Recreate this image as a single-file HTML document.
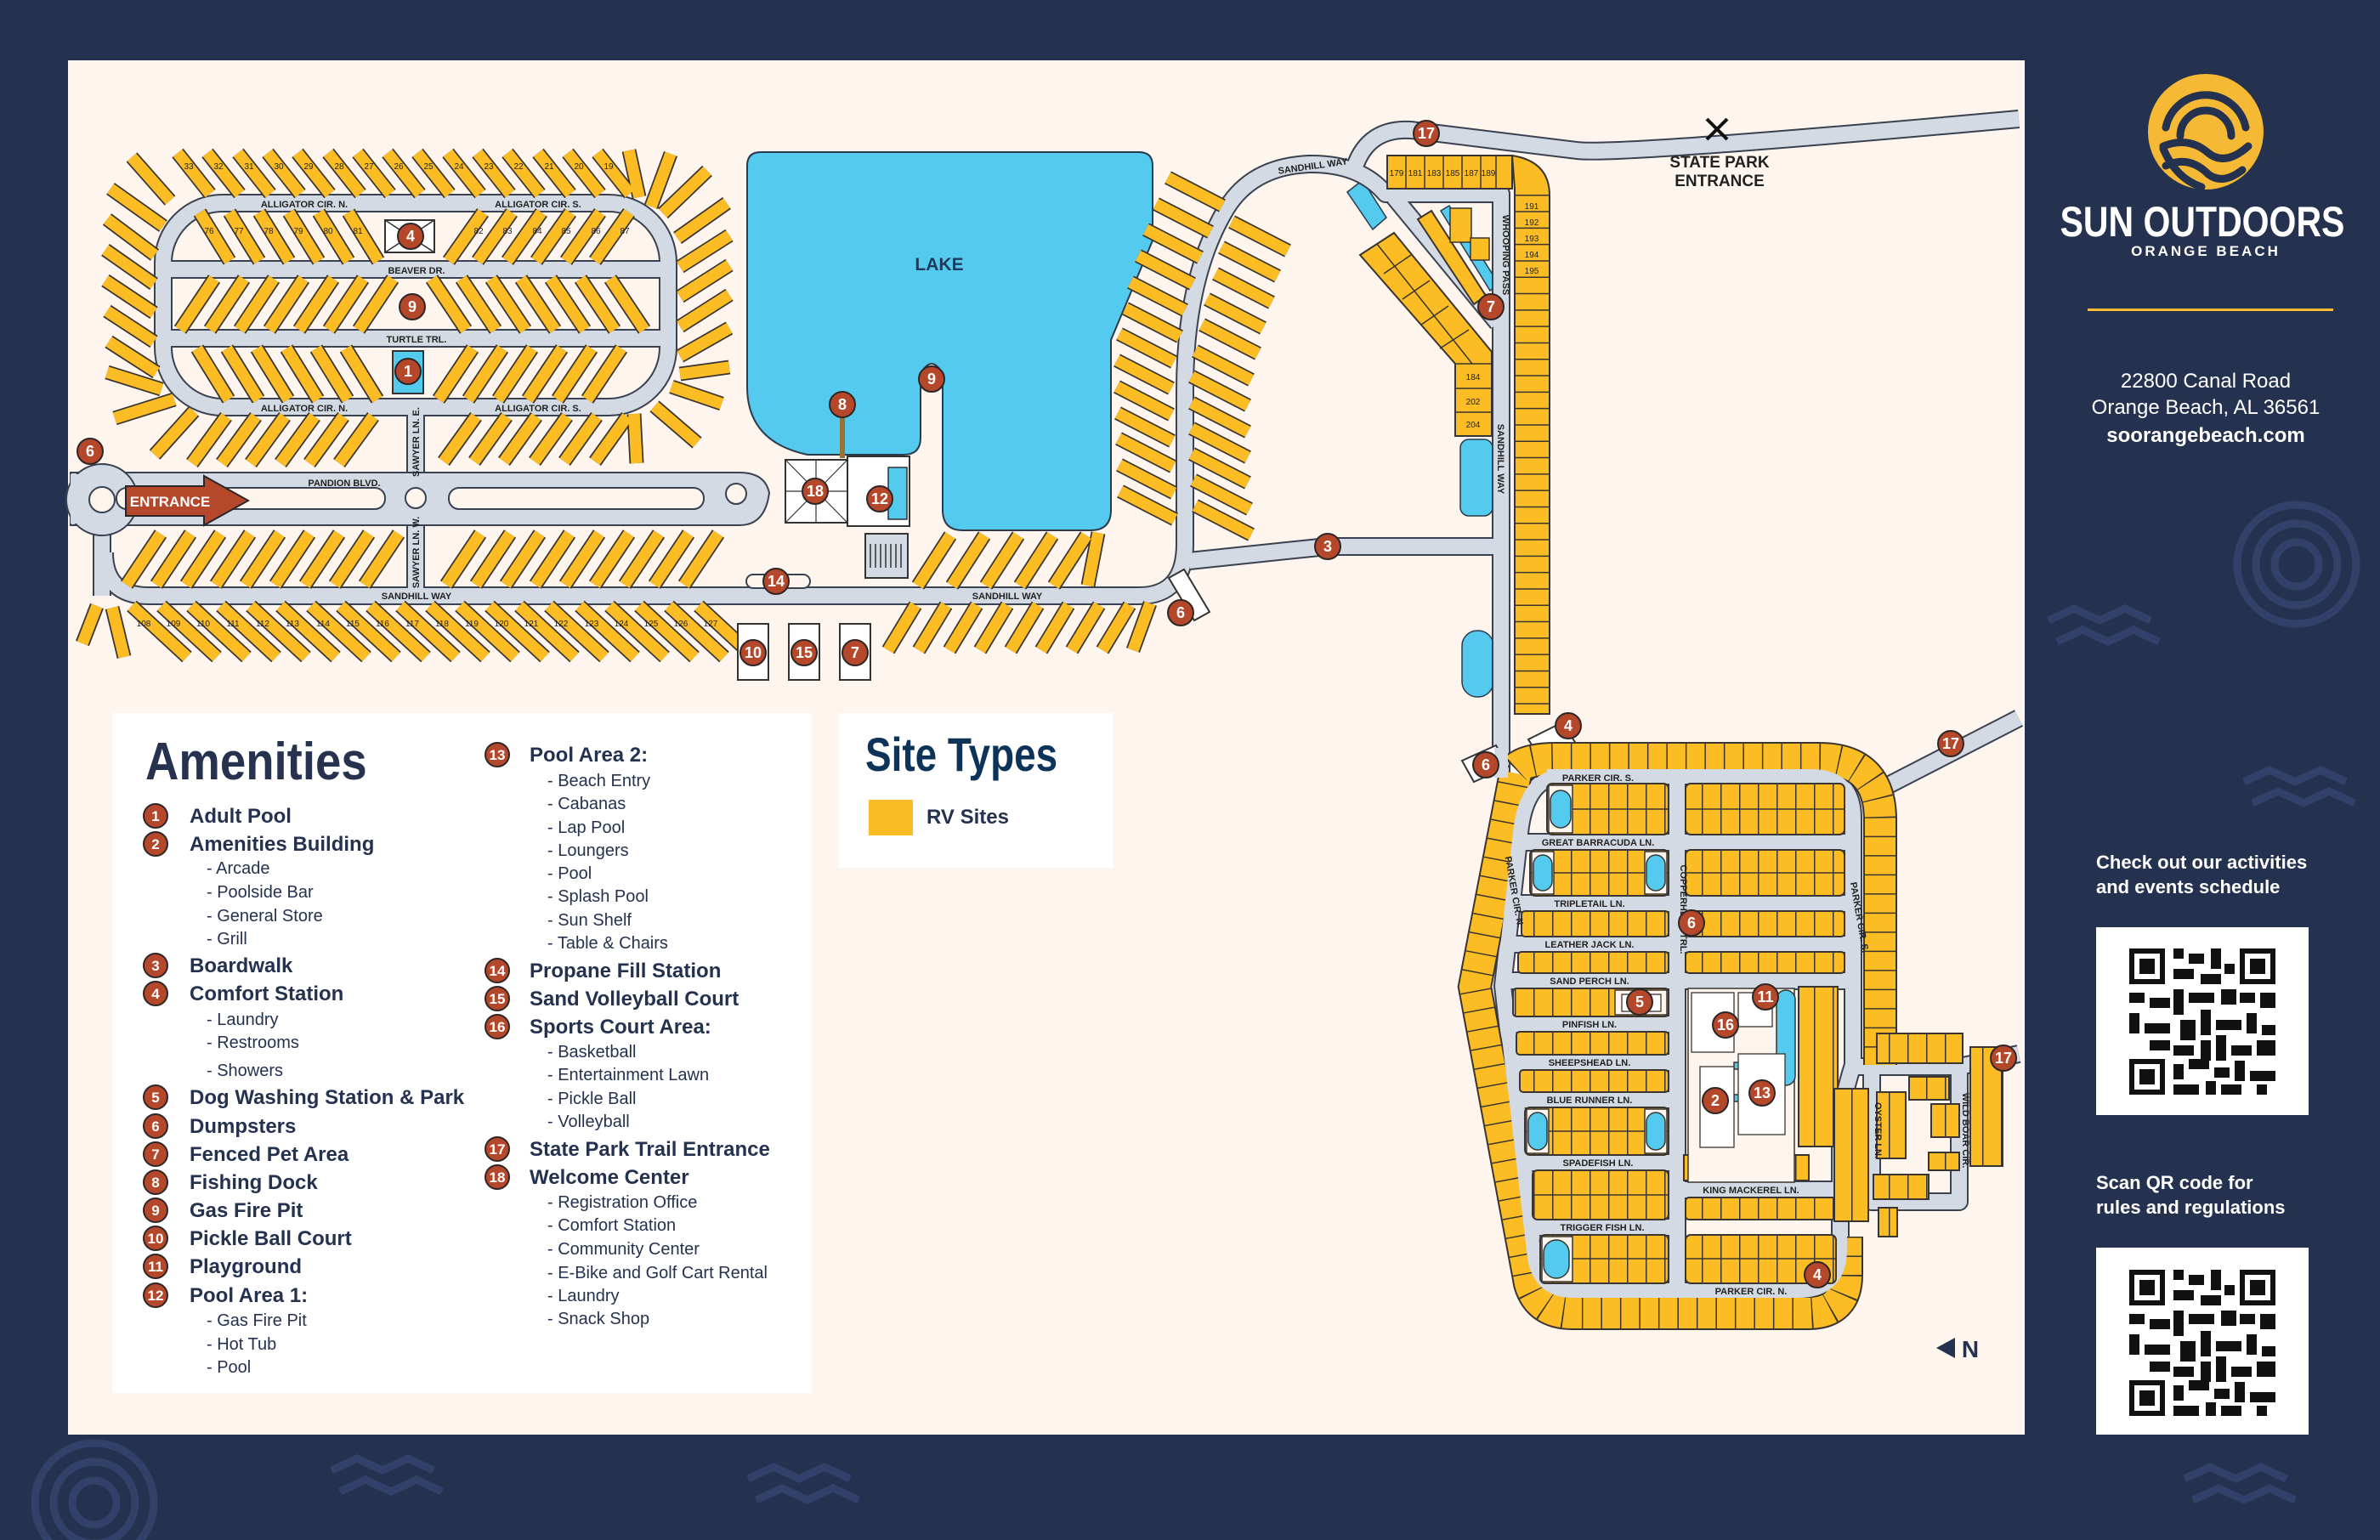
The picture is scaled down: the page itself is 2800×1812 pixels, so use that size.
<!DOCTYPE html>
<html><head><meta charset="utf-8"><style>
html,body{margin:0;padding:0;background:#25324f}
svg{display:block}
text{font-family:"Liberation Sans",sans-serif}
.m circle{fill:#b5482a;stroke:#2d2626;stroke-width:2}
.m text{fill:#fff;font-weight:bold;font-size:18px;text-anchor:middle}
.rl{font-size:11px;font-weight:bold;fill:#222;text-anchor:middle}
.sn{font-size:10px;fill:#222;text-anchor:middle}
.lh{font-size:24px;font-weight:bold;fill:#25324f}
.ls{font-size:20px;fill:#25324f}
.lc circle{fill:#b5482a;stroke:#2d2626;stroke-width:2}
.lc text{fill:#fff;font-weight:bold;font-size:17px;text-anchor:middle}
</style></head><body>
<svg width="2800" height="1812" viewBox="0 0 2800 1812" xmlns="http://www.w3.org/2000/svg">
<defs>
<pattern id="pv" width="22" height="10" patternUnits="userSpaceOnUse"><rect width="22" height="10" fill="#fbbd23"/><rect width="1.5" height="10" fill="#3a3530"/></pattern>
</defs>
<rect width="2800" height="1812" fill="#25324f"/>
<g fill="none" stroke="#31416a" stroke-width="9">
<circle cx="2702" cy="664" r="70"/><circle cx="2702" cy="664" r="48"/><circle cx="2702" cy="664" r="26"/>
<circle cx="111" cy="1768" r="70"/><circle cx="111" cy="1768" r="48"/><circle cx="111" cy="1768" r="26"/>
<path d="M2410 730 l30 -14 l30 14 l30 -14 l30 14 M2420 755 l30 -14 l30 14 l30 -14 l30 14"/>
<path d="M2640 920 l30 -14 l30 14 l30 -14 l30 14 M2650 945 l30 -14 l30 14 l30 -14 l30 14"/>
<path d="M390 1730 l30 -14 l30 14 l30 -14 l30 14 M400 1755 l30 -14 l30 14 l30 -14 l30 14"/>
<path d="M880 1740 l30 -14 l30 14 l30 -14 l30 14 M890 1765 l30 -14 l30 14 l30 -14 l30 14"/>
<path d="M2570 1740 l30 -14 l30 14 l30 -14 l30 14 M2580 1765 l30 -14 l30 14 l30 -14 l30 14"/>
</g>
<rect x="80" y="71" width="2302" height="1617" fill="#fdf5ee"/>

<path d="M879 195 Q879 179 895 179 L1340 179 Q1356 179 1356 195 L1356 283 L1307 400 L1307 600 Q1307 624 1283 624 L1133 624 Q1109 624 1109 600 L1109 440 Q1096 416 1083 440 L1083 515 Q1083 535 1063 535 L950 535 Q879 520 879 455 Z" fill="#54caee" stroke="#2d3a4a" stroke-width="2"/>
<text x="1105" y="318" font-size="21" font-weight="bold" fill="#1e3a5c" text-anchor="middle">LAKE</text>
<g fill="#54caee" stroke="#2d3a4a" stroke-width="1.5">
<rect x="1718" y="517" width="38" height="90" rx="10"/>
<rect x="1720" y="742" width="37" height="78" rx="18"/>
<path d="M1585 226 l18 -14 l28 44 l-16 14 z"/>
<path d="M1695 248 l10 -6 l58 92 l-10 8 z"/>
</g>

<defs>
<g id="rd" fill="none">
<rect x="192" y="239" width="594" height="240" rx="70"/>
<path d="M192 317 H786 M192 398 H786"/>
<path d="M489 479 V701"/>
<path d="M120 701 Q120 620 120 600"/>
<path d="M123 650 Q123 701 175 701 H1340 Q1394 701 1394 640 V460 Q1394 330 1440 250 Q1470 196 1540 193 Q1600 192 1630 228 H1766 V913"/>
<path d="M1640 232 L1762 380"/>
<path d="M1594 196 Q1610 150 1660 153 L1855 177 Q1900 183 2375 140"/>
<path d="M1399 660 L1562 643 H1766" />
<path d="M1820 913 H2130 Q2180 913 2180 963 V1253 Q2165 1300 2165 1330 V1470 Q2165 1519 2115 1519 H1850 Q1812 1519 1805 1480 L1768 1160 L1788 980 Q1795 913 1840 913"/>
<path d="M1973 913 V1519"/>
<path d="M1778 991 H2180 M1776 1063 H2180 M1772 1111 H2180 M1770 1154 H2180"/>
<path d="M1768 1205 H1973 M1772 1250 H1973 M1776 1294 H1973 M1785 1368 H1973 M1795 1444 H1973 M1973 1400 H2170"/>
<path d="M2180 1255 H2305 V1414 H2202 V1255"/>
<path d="M2305 1255 L2375 1240 M2200 935 L2375 845"/>
</g>
</defs>
<use href="#rd" stroke="#3a4150" stroke-width="22" stroke-linejoin="round"/>
<use href="#rd" stroke="#d4dae3" stroke-width="18" stroke-linejoin="round"/>
<path d="M83 556 H870 Q900 556 905 580 Q900 618 870 618 H83 Z" fill="#d4dae3" stroke="#3a4150" stroke-width="2"/>
<circle cx="120" cy="588" r="42" fill="#d4dae3" stroke="#3a4150" stroke-width="2"/>
<rect x="83" y="558" width="40" height="58" fill="#d4dae3"/>
<circle cx="120" cy="588" r="15" fill="#fdf5ee" stroke="#3a4150" stroke-width="2"/>
<rect x="137" y="574" width="316" height="25" rx="12" fill="#fdf5ee" stroke="#3a4150" stroke-width="2"/>
<rect x="528" y="574" width="300" height="25" rx="12" fill="#fdf5ee" stroke="#3a4150" stroke-width="2"/>
<circle cx="489" cy="586" r="12" fill="#fdf5ee" stroke="#3a4150" stroke-width="2"/>
<circle cx="866" cy="581" r="12" fill="#fdf5ee" stroke="#3a4150" stroke-width="2"/>
<rect x="878" y="676" width="75" height="16" rx="8" fill="#fdf5ee" stroke="#3a4150" stroke-width="2"/>
<path d="M148 572 H240 V560 L292 589 L240 618 V607 H148 Z" fill="#b5482a" stroke="#2d2626" stroke-width="2"/>
<text x="200" y="596" font-size="17" font-weight="bold" fill="#fff" text-anchor="middle">ENTRANCE</text>

<defs>
<g id="ws">
<path d="M209 180l38 48M244 180l38 48M280 180l38 48M315 180l38 48M350 180l38 48M386 180l38 48M421 180l38 48M456 180l38 48M491 180l38 48M527 180l38 48M562 180l38 48M597 180l38 48M633 180l38 48M668 180l38 48M703 180l38 48"/>
<path d="M155 185L200 236M740 177L752 232M789 181L766 243M832 201L780 251M855 239L797 280M858 277L800 314M858 312L800 349M858 347L800 384M858 386L800 419M858 432L800 440M849 475L790 455M820 521L770 478M749 545L746 487"/>
<path d="M130 222L192 266M126 258L182 300M124 294L181 334M124 330L181 368M126 366L181 402M128 402L184 438M126 438L190 458M135 492L205 470M182 535L228 484"/>
<path d="M226 545l40 -55M261 545l40 -55M295 545l40 -55M330 545l40 -55M364 545l40 -55M399 545l40 -55M522 543l38 -53M558 543l38 -53M593 543l38 -53M629 543l38 -53M664 543l38 -53M700 543l38 -53"/>
<path d="M235 250l35 57M270 250l35 57M305 250l35 57M340 250l35 57M375 250l35 57M410 250l35 57"/>
<path d="M528 307l40 -57M562 307l40 -57M597 307l40 -57M631 307l40 -57M666 307l40 -57M700 307l40 -57"/>
<path d="M212 388l40 -60M247 388l40 -60M282 388l40 -60M317 388l40 -60M352 388l40 -60M387 388l40 -60M422 388l40 -60"/>
<path d="M508 328l40 60M543 328l40 60M578 328l40 60M613 328l40 60M648 328l40 60M683 328l40 60M718 328l40 60"/>
<path d="M232 410l37 60M267 410l37 60M302 410l37 60M337 410l37 60M372 410l37 60M407 410l37 60"/>
<path d="M516 470l40 -60M551 470l40 -60M586 470l40 -60M621 470l40 -60M656 470l40 -60M691 470l40 -60"/>
<path d="M149 688l40 -60M184 688l40 -60M219 688l40 -60M254 688l40 -60M289 688l40 -60M324 688l40 -60M359 688l40 -60M394 688l40 -60M429 688l40 -60"/>
<path d="M525 688l40 -60M560 688l40 -60M595 688l40 -60M630 688l40 -60M665 688l40 -60M700 688l40 -60M735 688l40 -60M770 688l40 -60M805 688l40 -60"/>
<path d="M114 713L97 757M132 715L146 773"/>
<path d="M155 713l65 60M190 713l65 60M225 713l65 60M260 713l65 60M295 713l65 60M330 713l65 60M366 713l65 60M401 713l65 60M436 713l65 60M471 713l65 60M506 713l65 60M541 713l65 60M576 713l65 60M611 713l65 60M646 713l65 60M682 713l65 60M717 713l65 60M752 713l65 60M787 713l65 60M822 713l65 60"/>
<path d="M1045 765l32 -53M1081 765l32 -53M1117 765l32 -53M1153 765l32 -53M1189 765l32 -53M1225 765l32 -53M1261 765l32 -53M1297 765l32 -53M1333 765l20 -55"/>
<path d="M1080 689l38 -59M1120 689l38 -59M1160 689l38 -59M1200 689l38 -59M1240 689l38 -59M1280 689l12 -62"/>
<path d="M1318 578L1382 611M1317 547L1381 580M1316 516L1380 549M1315 486L1379 519M1314 455L1378 488M1314 424L1378 457M1317 393L1381 426M1324 363L1388 396M1330 332L1394 365M1339 301L1403 334M1348 270L1412 303M1360 240L1424 273M1374 209L1438 242"/>
<path d="M1406 595l66 34M1404 565l66 34M1402 534l66 34M1402 504l66 34M1402 474l66 34M1402 443l66 34M1406 413l66 34M1414 382l66 34M1420 352l66 34M1430 322l66 34M1437 291l66 34M1449 261l66 34"/>
</g>
</defs>
<use href="#ws" fill="none" stroke="#3a3530" stroke-width="17"/>
<use href="#ws" fill="none" stroke="#fbbd23" stroke-width="13.5"/>

<g class="sn">
<text x="222" y="199">33</text><text x="257" y="199">32</text><text x="293" y="199">31</text><text x="328" y="199">30</text><text x="363" y="199">29</text><text x="399" y="199">28</text><text x="434" y="199">27</text><text x="469" y="199">26</text><text x="504" y="199">25</text><text x="540" y="199">24</text><text x="575" y="199">23</text><text x="610" y="199">22</text><text x="646" y="199">21</text><text x="681" y="199">20</text><text x="716" y="199">19</text>
<text x="169" y="737">108</text><text x="204" y="737">109</text><text x="239" y="737">110</text><text x="274" y="737">111</text><text x="309" y="737">112</text><text x="344" y="737">113</text><text x="380" y="737">114</text><text x="415" y="737">115</text><text x="450" y="737">116</text><text x="485" y="737">117</text><text x="520" y="737">118</text><text x="555" y="737">119</text><text x="590" y="737">120</text><text x="625" y="737">121</text><text x="660" y="737">122</text><text x="696" y="737">123</text><text x="731" y="737">124</text><text x="766" y="737">125</text><text x="801" y="737">126</text><text x="836" y="737">127</text>
<text x="246" y="275">76</text><text x="281" y="275">77</text><text x="316" y="275">78</text><text x="351" y="275">79</text><text x="386" y="275">80</text><text x="421" y="275">81</text>
<text x="563" y="275">82</text><text x="597" y="275">83</text><text x="632" y="275">84</text><text x="666" y="275">85</text><text x="701" y="275">86</text><text x="735" y="275">87</text>
</g>

<rect x="453" y="259" width="58" height="38" fill="#fff" stroke="#333" stroke-width="2"/>
<path d="M453 259L511 297M511 259L453 297" stroke="#333" stroke-width="1.5"/>
<rect x="462" y="413" width="36" height="50" fill="#54caee" stroke="#333" stroke-width="2"/>
<g fill="#fff" stroke="#333" stroke-width="2">
<rect x="868" y="734" width="36" height="66"/><rect x="928" y="734" width="36" height="66"/><rect x="988" y="734" width="36" height="66"/>
<rect x="924" y="541" width="73" height="74"/>
<path d="M997 537 H1070 V619 H997 Z"/>
<path d="M1375 680 l18 -10 l30 50 l-18 10 z"/>
<path d="M1798 870 l40 -20 l18 28 l-40 20 z"/>
<path d="M1720 895 l40 -18 l14 25 l-40 18 z"/>
</g>
<rect x="1018" y="628" width="50" height="52" fill="#d4dae3" stroke="#333" stroke-width="2"/>
<path d="M1024 640V668M1030 640V668M1036 640V668M1042 640V668M1048 640V668M1054 640V668M1060 640V668" stroke="#333" stroke-width="1.5"/>
<path d="M924 541L997 615M997 541L924 615M960 541V615M924 578H997" stroke="#333" stroke-width="1.2"/>
<rect x="1045" y="550" width="22" height="61" fill="#54caee" stroke="#333" stroke-width="1.5"/>
<path d="M991 476 V539" stroke="#9a7236" stroke-width="6"/>

<g class="rl">
<text x="358" y="244">ALLIGATOR CIR. N.</text><text x="633" y="244">ALLIGATOR CIR. S.</text>
<text x="490" y="322">BEAVER DR.</text><text x="490" y="403">TURTLE TRL.</text>
<text x="358" y="484">ALLIGATOR CIR. N.</text><text x="633" y="484">ALLIGATOR CIR. S.</text>
<text x="405" y="572">PANDION BLVD.</text>
<text x="490" y="705">SANDHILL WAY</text><text x="1185" y="705">SANDHILL WAY</text>
<text x="1545" y="199" transform="rotate(-8 1545 199)">SANDHILL WAY</text>
<text x="0" y="0" transform="translate(493 520) rotate(-90)">SAWYER LN. E.</text>
<text x="0" y="0" transform="translate(493 650) rotate(-90)">SAWYER LN. W.</text>
<text x="0" y="0" transform="translate(1768 300) rotate(90)">WHOOPING PASS</text>
<text x="0" y="0" transform="translate(1762 540) rotate(90)">SANDHILL WAY</text>
</g>
<text x="2023" y="197" font-size="19" font-weight="bold" fill="#222" text-anchor="middle">STATE PARK</text>
<text x="2023" y="219" font-size="19" font-weight="bold" fill="#222" text-anchor="middle">ENTRANCE</text>
<path d="M2008 140 l24 24 M2032 140 l-24 24" stroke="#111" stroke-width="4"/>

<rect x="1632" y="183" width="147" height="39" fill="#fbbd23" stroke="#3a3530" stroke-width="2"/>
<path d="M1654 183v39M1676 183v39M1698 183v39M1720 183v39M1742 183v39M1760 183v39" stroke="#3a3530" stroke-width="1.5"/>
<path d="M1779 183 Q1823 190 1823 230 V840 H1782 V222 L1779 183 Z" fill="#fbbd23" stroke="#3a3530" stroke-width="2"/>
<line x1="1802" y1="229" x2="1802" y2="840" stroke="#3a3530" stroke-width="40" stroke-dasharray="1.5 17.8"/>
<path d="M1600 300 L1640 274 L1755 414 V513 H1712 V428 Z" fill="#fbbd23" stroke="#3a3530" stroke-width="2"/>
<path d="M1620 287 L1732 428 M1712 428 H1755 M1712 457 H1755 M1712 485 H1755 M1628 322 L1660 300 M1650 352 L1682 330 M1672 382 L1704 360 M1694 410 L1728 388" stroke="#3a3530" stroke-width="1.5"/>
<path d="M1668 258 L1684 248 L1748 348 L1734 358 Z" fill="#fbbd23" stroke="#3a3530" stroke-width="2"/>
<rect x="1706" y="245" width="25" height="40" fill="#fbbd23" stroke="#3a3530" stroke-width="1.5"/>
<rect x="1730" y="280" width="22" height="26" fill="#fbbd23" stroke="#3a3530" stroke-width="1.5"/>
<g class="sn"><text x="1643" y="207">179</text><text x="1665" y="207">181</text><text x="1687" y="207">183</text><text x="1709" y="207">185</text><text x="1731" y="207">187</text><text x="1751" y="207">189</text><text x="1802" y="246">191</text><text x="1802" y="265">192</text><text x="1802" y="284">193</text><text x="1802" y="303">194</text><text x="1802" y="322">195</text><text x="1733" y="447">184</text><text x="1733" y="476">202</text><text x="1733" y="503">204</text></g>

<defs>
<path id="ring" d="M1783 905 Q1795 893 1830 893 H2140 Q2212 893 2212 965 V1253 M2172 1455 V1500 Q2172 1545 2127 1545 H1850 Q1810 1545 1800 1510 L1735 1161 L1783 910"/>
</defs>
<use href="#ring" fill="none" stroke="#3a3530" stroke-width="40"/>
<use href="#ring" fill="none" stroke="#fbbd23" stroke-width="36"/>
<use href="#ring" fill="none" stroke="#3a3530" stroke-width="36" stroke-dasharray="1.5 21"/>
<path d="M1820 913 H2130 Q2180 913 2180 963 V1253 Q2165 1300 2165 1330 V1470 Q2165 1519 2115 1519 H1850 Q1812 1519 1805 1480 L1768 1160 L1788 980 Q1795 913 1840 913" fill="none" stroke="#d4dae3" stroke-width="16"/>
<path d="M1766 880 V915" stroke="#d4dae3" stroke-width="16"/>

<g fill="url(#pv)" stroke="#3a3530" stroke-width="2">
<rect x="1820" y="922" width="143" height="60" rx="6"/>
<rect x="1983" y="922" width="187" height="60" rx="6"/>
<rect x="1800" y="1000" width="163" height="54" rx="6"/>
<rect x="1983" y="1000" width="187" height="54" rx="6"/>
<rect x="1790" y="1072" width="173" height="30" rx="4"/>
<rect x="1983" y="1072" width="187" height="30" rx="4"/>
<rect x="1786" y="1120" width="177" height="25" rx="4"/>
<rect x="1983" y="1120" width="187" height="25" rx="4"/>
<rect x="1780" y="1163" width="183" height="33" rx="4"/>
<rect x="1784" y="1214" width="179" height="27" rx="4"/>
<rect x="1788" y="1259" width="175" height="26" rx="4"/>
<rect x="1794" y="1303" width="169" height="56" rx="6"/>
<rect x="1803" y="1377" width="160" height="58" rx="6"/>
<rect x="1812" y="1453" width="151" height="57" rx="6"/>
<rect x="1983" y="1409" width="177" height="26" rx="4"/>
<rect x="1983" y="1453" width="177" height="57" rx="6"/>
<rect x="1981" y="1359" width="147" height="30"/>
<rect x="2116" y="1161" width="46" height="188"/>
<rect x="2158" y="1281" width="40" height="156"/>
<rect x="2208" y="1285" width="34" height="78"/>
<rect x="2246" y="1267" width="47" height="27"/>
<rect x="2272" y="1299" width="33" height="39"/>
<rect x="2269" y="1356" width="36" height="21"/>
<rect x="2204" y="1382" width="65" height="29"/>
<rect x="2210" y="1421" width="22" height="34"/>
<rect x="2208" y="1216" width="101" height="35"/>
<rect x="2318" y="1232" width="38" height="140"/>
</g>
<path d="M1820 952H1963M1983 952H2170M1800 1027H1963M1983 1027H2170M1794 1331H1963M1803 1406H1963M1812 1481H1963M1983 1481H2160" stroke="#3a3530" stroke-width="1.5"/>
<g fill="#fdf5ee" stroke="#3a3530" stroke-width="1.5">
<rect x="1822" y="924" width="28" height="56"/>
<rect x="1802" y="1002" width="26" height="50"/><rect x="1935" y="1002" width="26" height="50"/>
<rect x="1796" y="1305" width="26" height="52"/><rect x="1935" y="1305" width="26" height="52"/>
<rect x="1814" y="1455" width="36" height="53"/>
<rect x="1900" y="1165" width="61" height="29"/>
<rect x="1986" y="1163" width="125" height="228" fill="#fdf5ee"/>
</g>
<g fill="#54caee" stroke="#3a3530" stroke-width="1.5">
<rect x="1824" y="930" width="24" height="44" rx="12"/>
<rect x="1804" y="1006" width="22" height="42" rx="11"/><rect x="1937" y="1006" width="22" height="42" rx="11"/>
<rect x="1798" y="1309" width="22" height="44" rx="11"/><rect x="1937" y="1309" width="22" height="44" rx="11"/>
<rect x="1816" y="1459" width="30" height="45" rx="15"/>
<rect x="2090" y="1165" width="22" height="112" rx="11"/>
<path d="M2040 1250 h32 v8 h-10 v30 h10 v8 h-32 v-8 h10 v-30 h-10 z"/>
</g>
<g fill="#fff" stroke="#3a3530" stroke-width="1.3">
<rect x="1990" y="1168" width="50" height="70"/><rect x="2045" y="1168" width="40" height="40"/>
<rect x="2000" y="1255" width="40" height="95"/><rect x="2045" y="1240" width="55" height="95"/>
<rect x="1908" y="1170" width="46" height="20"/>
</g>
<g class="rl" font-size="10">
<text x="1880" y="919">PARKER CIR. S.</text><text x="1880" y="995">GREAT BARRACUDA LN.</text><text x="1870" y="1067">TRIPLETAIL LN.</text><text x="1870" y="1115">LEATHER JACK LN.</text><text x="1870" y="1158">SAND PERCH LN.</text><text x="1870" y="1209">PINFISH LN.</text><text x="1870" y="1254">SHEEPSHEAD LN.</text><text x="1870" y="1298">BLUE RUNNER LN.</text><text x="1880" y="1372">SPADEFISH LN.</text><text x="1885" y="1448">TRIGGER FISH LN.</text><text x="2060" y="1404">KING MACKEREL LN.</text><text x="2060" y="1523">PARKER CIR. N.</text>
<text transform="translate(1977 1070) rotate(90)">COPPERHEAD TRL.</text>
<text transform="translate(2184 1080) rotate(80)">PARKER CIR. S.</text>
<text transform="translate(1778 1050) rotate(80)">PARKER CIR. N.</text>
<text transform="translate(2206 1330) rotate(90)">OYSTER LN.</text>
<text transform="translate(2309 1330) rotate(90)">WILD BOAR CIR.</text>
</g>

<g class="m">
<g><circle cx="483" cy="278" r="15"/><text x="483" y="284">4</text></g>
<g><circle cx="485" cy="361" r="15"/><text x="485" y="367">9</text></g>
<g><circle cx="480" cy="437" r="15"/><text x="480" y="443">1</text></g>
<g><circle cx="106" cy="531" r="15"/><text x="106" y="537">6</text></g>
<g><circle cx="913" cy="684" r="15"/><text x="913" y="690">14</text></g>
<g><circle cx="886" cy="768" r="15"/><text x="886" y="774">10</text></g>
<g><circle cx="946" cy="768" r="15"/><text x="946" y="774">15</text></g>
<g><circle cx="1006" cy="768" r="15"/><text x="1006" y="774">7</text></g>
<g><circle cx="991" cy="476" r="15"/><text x="991" y="482">8</text></g>
<g><circle cx="1096" cy="446" r="15"/><text x="1096" y="452">9</text></g>
<g><circle cx="959" cy="578" r="15"/><text x="959" y="584">18</text></g>
<g><circle cx="1035" cy="587" r="15"/><text x="1035" y="593">12</text></g>
<g><circle cx="1562" cy="643" r="15"/><text x="1562" y="649">3</text></g>
<g><circle cx="1389" cy="721" r="15"/><text x="1389" y="727">6</text></g>
<g><circle cx="1678" cy="157" r="15"/><text x="1678" y="163">17</text></g>
<g><circle cx="1754" cy="361" r="15"/><text x="1754" y="367">7</text></g>
<g><circle cx="1845" cy="854" r="15"/><text x="1845" y="860">4</text></g>
<g><circle cx="1748" cy="900" r="15"/><text x="1748" y="906">6</text></g>
<g><circle cx="1990" cy="1086" r="15"/><text x="1990" y="1092">6</text></g>
<g><circle cx="1929" cy="1179" r="15"/><text x="1929" y="1185">5</text></g>
<g><circle cx="2077" cy="1173" r="15"/><text x="2077" y="1179">11</text></g>
<g><circle cx="2030" cy="1206" r="15"/><text x="2030" y="1212">16</text></g>
<g><circle cx="2018" cy="1295" r="15"/><text x="2018" y="1301">2</text></g>
<g><circle cx="2073" cy="1286" r="15"/><text x="2073" y="1292">13</text></g>
<g><circle cx="2138" cy="1500" r="15"/><text x="2138" y="1506">4</text></g>
<g><circle cx="2295" cy="875" r="15"/><text x="2295" y="881">17</text></g>
<g><circle cx="2357" cy="1245" r="15"/><text x="2357" y="1251">17</text></g>
</g>
<path d="M2278 1586 l22 -12 v24 z" fill="#25324f"/>
<text x="2318" y="1597" font-size="28" font-weight="bold" fill="#25324f" text-anchor="middle">N</text>

<rect x="132" y="839" width="823" height="800" fill="#fff"/>
<text x="171" y="917" font-size="62" font-weight="bold" fill="#26324e" transform="translate(171 0) scale(0.88 1) translate(-171 0)">Amenities</text>
<g class="lc">
<g><circle cx="183" cy="960" r="14"/><text x="183" y="966">1</text></g>
<g><circle cx="183" cy="993" r="14"/><text x="183" y="999">2</text></g>
<g><circle cx="183" cy="1136" r="14"/><text x="183" y="1142">3</text></g>
<g><circle cx="183" cy="1169" r="14"/><text x="183" y="1175">4</text></g>
<g><circle cx="183" cy="1291" r="14"/><text x="183" y="1297">5</text></g>
<g><circle cx="183" cy="1325" r="14"/><text x="183" y="1331">6</text></g>
<g><circle cx="183" cy="1358" r="14"/><text x="183" y="1364">7</text></g>
<g><circle cx="183" cy="1391" r="14"/><text x="183" y="1397">8</text></g>
<g><circle cx="183" cy="1424" r="14"/><text x="183" y="1430">9</text></g>
<g><circle cx="183" cy="1457" r="14"/><text x="183" y="1463">10</text></g>
<g><circle cx="183" cy="1490" r="14"/><text x="183" y="1496">11</text></g>
<g><circle cx="183" cy="1524" r="14"/><text x="183" y="1530">12</text></g>
<g><circle cx="585" cy="888" r="14"/><text x="585" y="894">13</text></g>
<g><circle cx="585" cy="1142" r="14"/><text x="585" y="1148">14</text></g>
<g><circle cx="585" cy="1175" r="14"/><text x="585" y="1181">15</text></g>
<g><circle cx="585" cy="1208" r="14"/><text x="585" y="1214">16</text></g>
<g><circle cx="585" cy="1352" r="14"/><text x="585" y="1358">17</text></g>
<g><circle cx="585" cy="1385" r="14"/><text x="585" y="1391">18</text></g>
</g>
<g class="lh">
<text x="223" y="968">Adult Pool</text><text x="223" y="1001">Amenities Building</text>
<text x="223" y="1144">Boardwalk</text><text x="223" y="1177">Comfort Station</text>
<text x="223" y="1299">Dog Washing Station &amp; Park</text><text x="223" y="1333">Dumpsters</text>
<text x="223" y="1366">Fenced Pet Area</text><text x="223" y="1399">Fishing Dock</text>
<text x="223" y="1432">Gas Fire Pit</text><text x="223" y="1465">Pickle Ball Court</text>
<text x="223" y="1498">Playground</text><text x="223" y="1532">Pool Area 1:</text>
<text x="623" y="896">Pool Area 2:</text><text x="623" y="1150">Propane Fill Station</text>
<text x="623" y="1183">Sand Volleyball Court</text><text x="623" y="1216">Sports Court Area:</text>
<text x="623" y="1360">State Park Trail Entrance</text><text x="623" y="1393">Welcome Center</text>
</g>
<g class="ls">
<text x="243" y="1028">- Arcade</text><text x="243" y="1056">- Poolside Bar</text><text x="243" y="1084">- General Store</text><text x="243" y="1111">- Grill</text>
<text x="243" y="1206">- Laundry</text><text x="243" y="1233">- Restrooms</text><text x="243" y="1266">- Showers</text>
<text x="243" y="1560">- Gas Fire Pit</text><text x="243" y="1588">- Hot Tub</text><text x="243" y="1615">- Pool</text>
<text x="644" y="925">- Beach Entry</text><text x="644" y="952">- Cabanas</text><text x="644" y="980">- Lap Pool</text><text x="644" y="1007">- Loungers</text><text x="644" y="1034">- Pool</text><text x="644" y="1061">- Splash Pool</text><text x="644" y="1089">- Sun Shelf</text><text x="644" y="1116">- Table &amp; Chairs</text>
<text x="644" y="1244">- Basketball</text><text x="644" y="1271">- Entertainment Lawn</text><text x="644" y="1299">- Pickle Ball</text><text x="644" y="1326">- Volleyball</text>
<text x="644" y="1421">- Registration Office</text><text x="644" y="1448">- Comfort Station</text><text x="644" y="1476">- Community Center</text><text x="644" y="1504">- E-Bike and Golf Cart Rental</text><text x="644" y="1531">- Laundry</text><text x="644" y="1558">- Snack Shop</text>
</g>
<rect x="987" y="839" width="322" height="182" fill="#fff"/>
<text x="1018" y="907" font-size="56" font-weight="bold" fill="#0d3358" transform="translate(1018 0) scale(0.82 1) translate(-1018 0)">Site Types</text>
<rect x="1022" y="941" width="52" height="42" fill="#fbbd23"/>
<text x="1090" y="969" font-size="24" font-weight="bold" fill="#25324f">RV Sites</text>

<circle cx="2595" cy="155" r="68" fill="#f6b935"/>
<g fill="none" stroke="#25324f" stroke-width="9" stroke-linecap="round">
<path d="M2548 150 A48 48 0 0 1 2642 150"/>
<path d="M2565 160 A30 30 0 0 1 2625 160"/>
<path d="M2545 172 Q2575 160 2598 180 Q2618 196 2645 172"/>
<path d="M2548 195 Q2575 182 2598 205 Q2615 218 2638 200"/>
<path d="M2545 175 Q2560 210 2590 220"/>
</g>
<text x="2591" y="278" font-size="50" font-weight="bold" fill="#fff" text-anchor="middle" transform="translate(2591 0) scale(0.82 1) translate(-2591 0)">SUN OUTDOORS</text>
<text x="2595" y="301" font-size="17" font-weight="bold" fill="#fff" text-anchor="middle" letter-spacing="3">ORANGE BEACH</text>
<rect x="2456" y="363" width="289" height="3" fill="#f6b935"/>
<text x="2595" y="456" font-size="24" fill="#fff" text-anchor="middle">22800 Canal Road</text>
<text x="2595" y="487" font-size="24" fill="#fff" text-anchor="middle">Orange Beach, AL 36561</text>
<text x="2595" y="520" font-size="24" font-weight="bold" fill="#fff" text-anchor="middle">soorangebeach.com</text>
<text x="2466" y="1022" font-size="22" font-weight="bold" fill="#fff">Check out our activities</text>
<text x="2466" y="1051" font-size="22" font-weight="bold" fill="#fff">and events schedule</text>
<text x="2466" y="1399" font-size="22" font-weight="bold" fill="#fff">Scan QR code for</text>
<text x="2466" y="1428" font-size="22" font-weight="bold" fill="#fff">rules and regulations</text>
<rect x="2466" y="1091" width="250" height="221" fill="#fff"/>
<rect x="2466" y="1468" width="250" height="220" fill="#fff"/>
<defs>
<g id="qr">
<rect x="0" y="0" width="42" height="42" fill="#111"/><rect x="6" y="6" width="30" height="30" fill="#fff"/><rect x="12" y="12" width="18" height="18" fill="#111"/>
<rect x="130" y="0" width="42" height="42" fill="#111"/><rect x="136" y="6" width="30" height="30" fill="#fff"/><rect x="142" y="12" width="18" height="18" fill="#111"/>
<rect x="0" y="130" width="42" height="42" fill="#111"/><rect x="6" y="136" width="30" height="30" fill="#fff"/><rect x="12" y="142" width="18" height="18" fill="#111"/>
<path fill="#111" d="M52 0h12v12h-12zM70 6h18v12h-18zM96 0h12v24h-12zM52 24h24v12h-24zM84 30h24v12h-24zM112 18h12v12h-12zM0 52h18v12h-18zM24 58h24v12h-24zM52 48h12v30h-12zM70 52h30v12h-30zM108 48h18v18h-18zM130 52h18v12h-18zM154 52h18v18h-18zM0 76h12v24h-12zM18 88h30v12h-30zM60 84h18v24h-18zM84 72h12v30h-12zM102 84h30v12h-30zM138 76h12v24h-12zM156 90h16v12h-16zM24 108h24v12h-24zM52 114h24v12h-24zM84 108h12v24h-12zM102 102h12v30h-12zM120 114h24v12h-24zM150 108h22v18h-22zM52 136h12v18h-12zM70 130h24v12h-24zM100 140h18v12h-18zM124 132h12v24h-12zM142 144h30v12h-30zM52 160h30v12h-30zM90 156h12v16h-12zM108 160h24v12h-24zM150 160h12v12h-12z"/>
</g>
</defs>
<use href="#qr" transform="translate(2505 1116)"/>
<use href="#qr" transform="translate(2505 1494)"/>
</svg>
</body></html>
